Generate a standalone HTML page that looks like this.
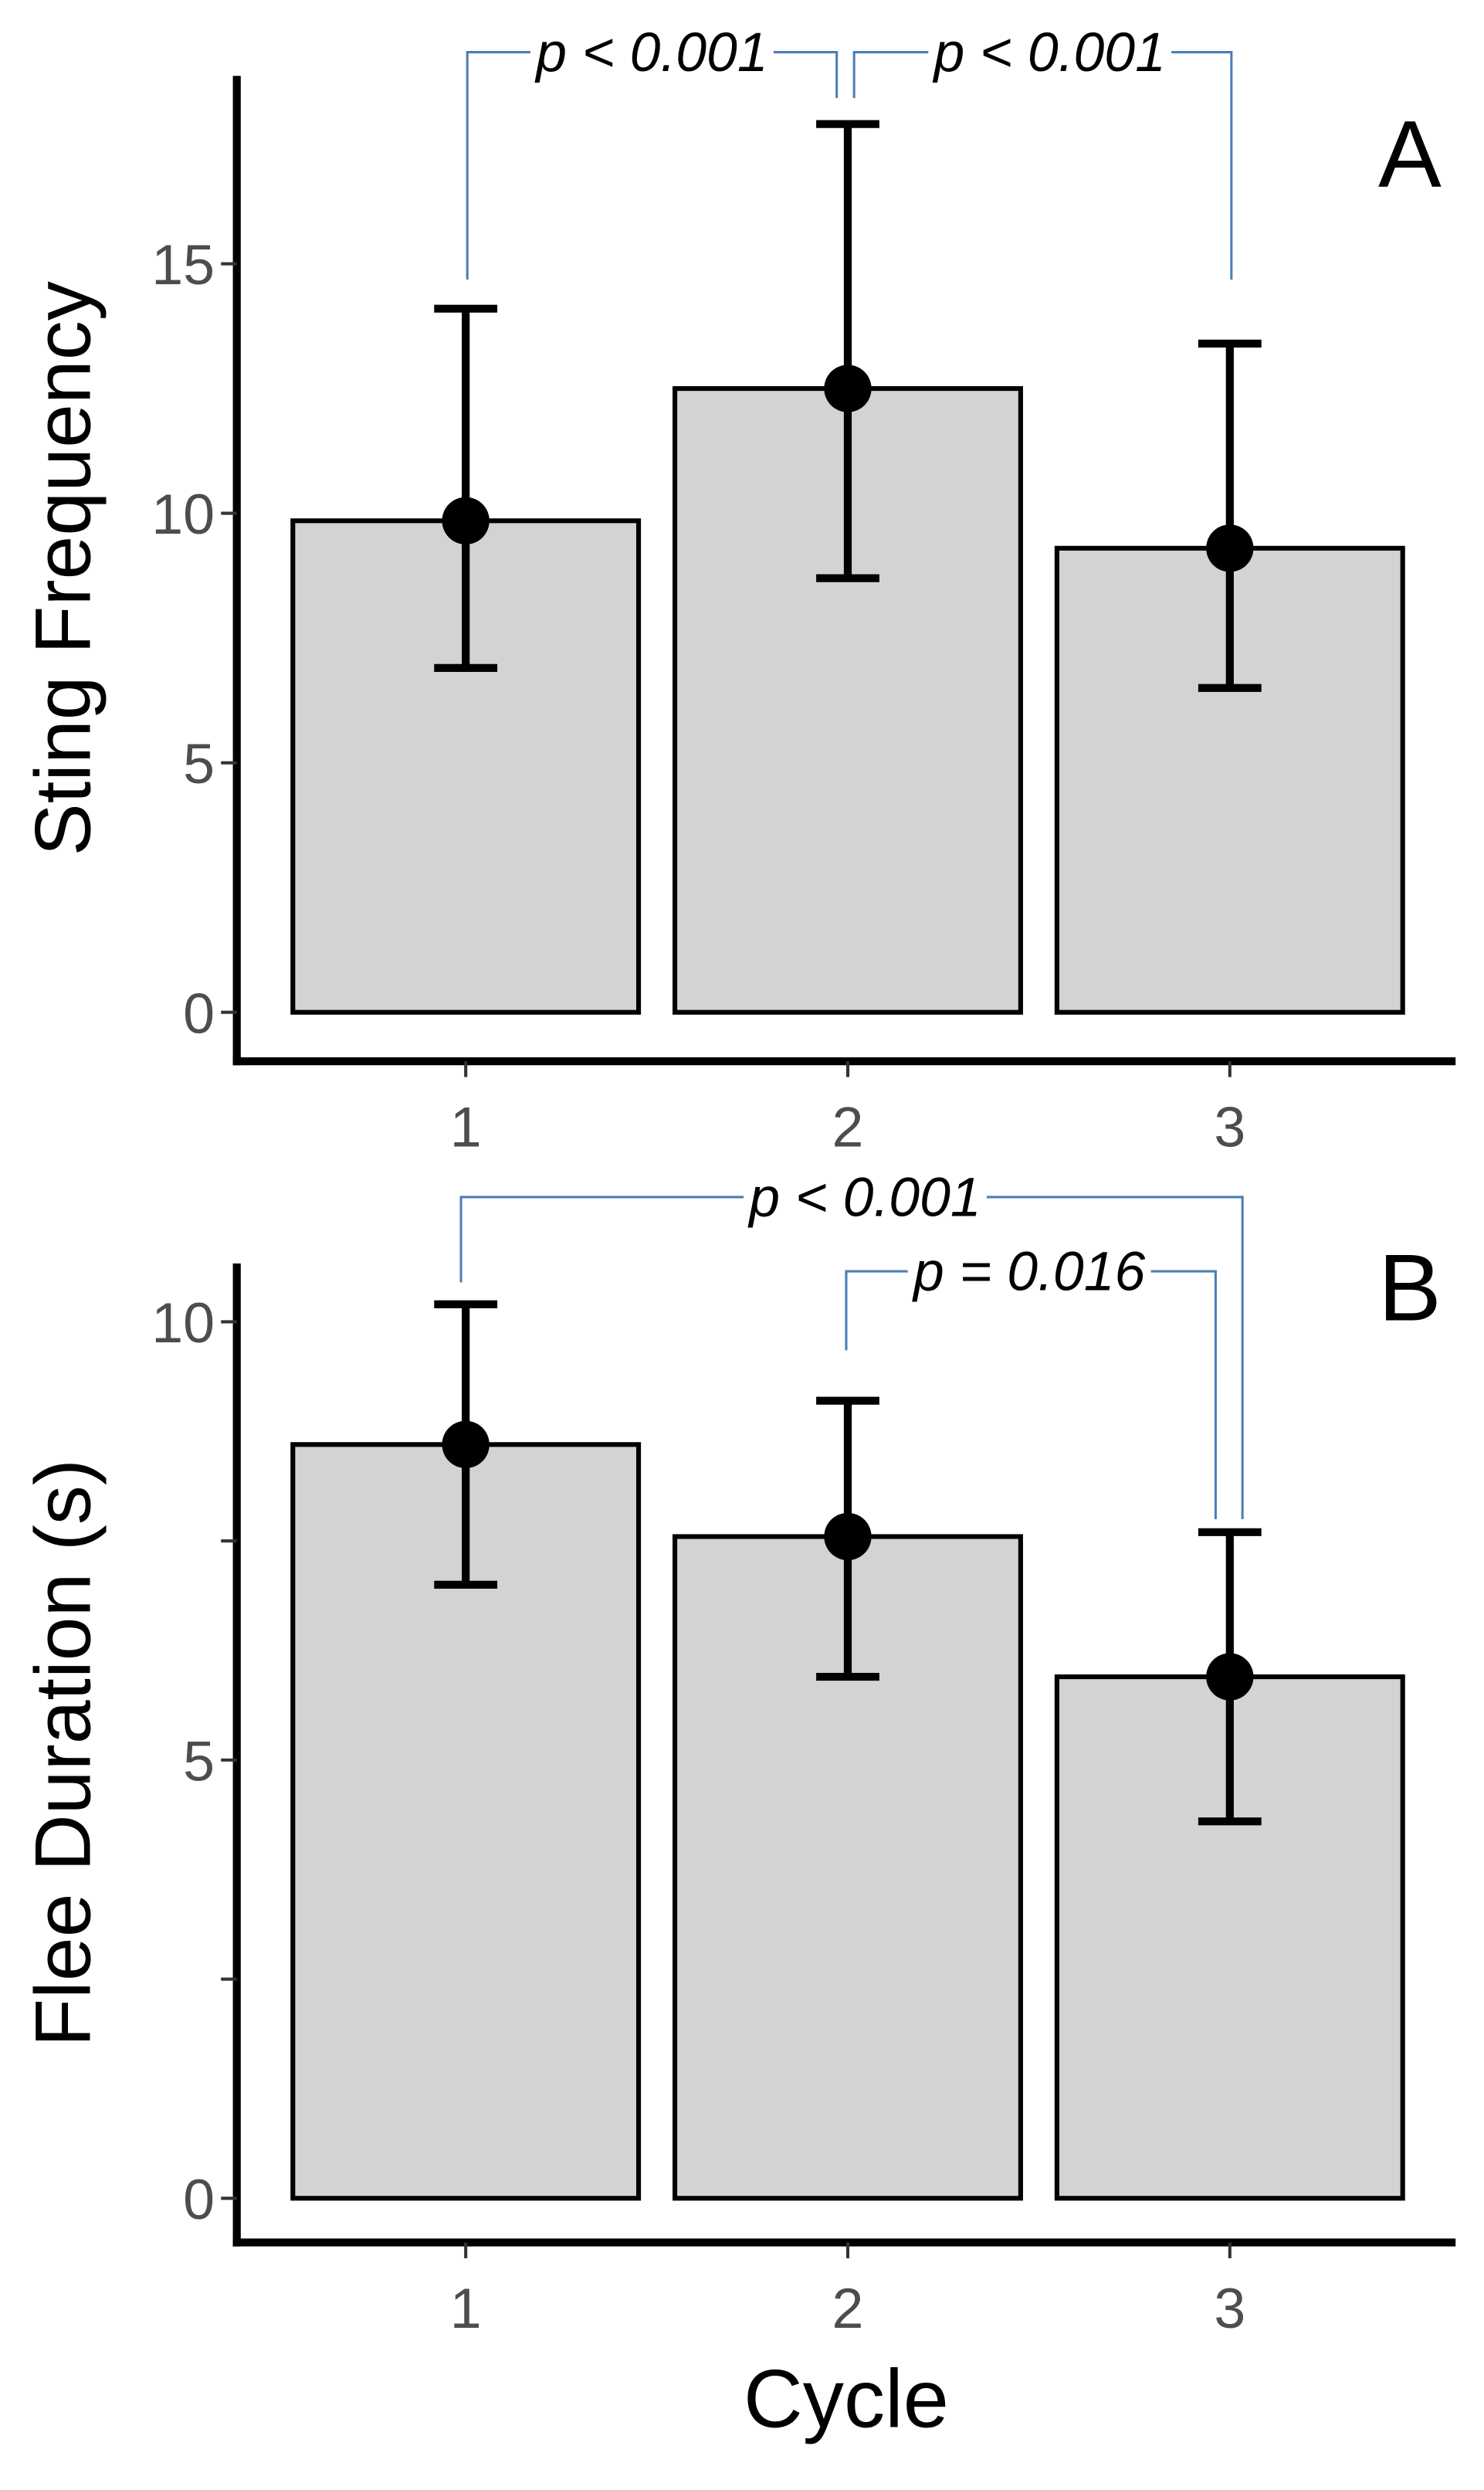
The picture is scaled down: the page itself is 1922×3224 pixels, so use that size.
<!DOCTYPE html>
<html><head><meta charset="utf-8"><style>
html,body{margin:0;padding:0;background:#fff;}
svg{display:block;}
text{font-family:"Liberation Sans",sans-serif;}
</style></head><body>
<svg id="chart" width="1922" height="3224" viewBox="0 0 940 1576.7" xmlns="http://www.w3.org/2000/svg">
<g id="pA"></g>
<g id="pB"></g>
</svg>
<script>
const categories = ["1","2","3"];
const stingMeans = [9.85, 12.5, 9.3];
const stingLow = [6.9, 8.7, 6.5];
const stingHigh = [14.1, 17.8, 13.4];
const stingTicks = [0,5,10,15];
const fleeMeans = [8.6, 7.55, 5.95];
const fleeLow = [7.0, 5.95, 4.3];
const fleeHigh = [10.2, 9.1, 7.6];
const fleeTicks = [0,2.5,5,7.5,10];
const fleeTickLabels = ["0","","5","","10"];

const NS="http://www.w3.org/2000/svg";
function mk(parent,tag,attrs,txt){const e=document.createElementNS(NS,tag);for(const k in attrs)e.setAttribute(k,attrs[k]);if(txt!==undefined)e.textContent=txt;parent.appendChild(e);return e;}
const xs=[295,537,779], bw=219;
function xOf(i){return xs[i];}

function panel(g,cfg){
  const y=v=>cfg.y0-v*cfg.k;
  cfg.means.forEach((m,i)=>{
    const r=mk(g,'rect',{x:xOf(i)-bw/2,y:y(m),width:bw,height:y(0)-y(m),fill:'#d3d3d3',stroke:'#000','stroke-width':3});
    
    
  });
  cfg.means.forEach((m,i)=>{
    const eg=mk(g,'g',{stroke:'#000','stroke-width':5});
    
    
    mk(eg,'line',{x1:xOf(i),x2:xOf(i),y1:y(cfg.lo[i]),y2:y(cfg.hi[i])});
    mk(eg,'line',{x1:xOf(i)-20,x2:xOf(i)+20,y1:y(cfg.lo[i]),y2:y(cfg.lo[i])});
    mk(eg,'line',{x1:xOf(i)-20,x2:xOf(i)+20,y1:y(cfg.hi[i]),y2:y(cfg.hi[i])});
    const c=mk(g,'circle',{cx:xOf(i),cy:y(m),r:15,fill:'#000'});
    
    
  });
  const ax=mk(g,'g',{stroke:'#000','stroke-width':5});
  
  
  mk(ax,'line',{x1:150,x2:150,y1:cfg.top,y2:cfg.axY+2.5});
  mk(ax,'line',{x1:147.5,x2:922,y1:cfg.axY,y2:cfg.axY});
  cfg.ticks.forEach((t,i)=>{
    mk(g,'line',{x1:140,x2:150,y1:y(t),y2:y(t),stroke:'#333','stroke-width':2});
    if(cfg.labels[i]!==''){
      const tx=mk(g,'text',{x:136,y:y(t)+13,'text-anchor':'end','font-size':36,fill:'#4d4d4d'},cfg.labels[i]);
      
      
    }
  });
  categories.forEach((c,i)=>{
    mk(g,'line',{x1:xOf(i),x2:xOf(i),y1:cfg.axY,y2:cfg.axY+10,stroke:'#333','stroke-width':2});
    const tx=mk(g,'text',{x:xOf(i),y:cfg.axY+54,'text-anchor':'middle','font-size':36,fill:'#4d4d4d'},c);
    
    
  });
  const yt=mk(g,'text',{x:0,y:0,transform:`translate(57,${cfg.titleY}) rotate(-90)`,'text-anchor':'middle','font-size':50,fill:'#000'},cfg.title);
  
  
  const L=mk(g,'text',{x:893,y:cfg.letterY,'text-anchor':'middle','font-size':60,fill:'#000'},cfg.letter);
  
  
  cfg.brackets.forEach(b=>{
    const bg=mk(g,'g',{});
    
    
    mk(bg,'polyline',{points:`${b.x1},${b.y1} ${b.x1},${b.yt} ${b.x2},${b.yt} ${b.x2},${b.y2}`,fill:'none',stroke:'#4a7fb5','stroke-width':1.5});
    const tw=b.w;
    mk(bg,'rect',{x:b.tx-tw/2,y:b.yt-16,width:tw,height:32,fill:'#fff'});
    mk(bg,'text',{x:b.tx,y:b.yt+12,'text-anchor':'middle','font-size':35,'font-style':'italic',fill:'#000'},b.text);
  });
}

panel(document.getElementById('pA'),{y0:641,k:31.6,top:48,axY:672,means:stingMeans,lo:stingLow,hi:stingHigh,
  ticks:stingTicks,labels:stingTicks.map(String),title:'Sting Frequency',titleY:360,letter:'A',letterY:118,
  brackets:[{x1:296,y1:177,x2:530,y2:62,yt:33,tx:413,w:154,text:'p < 0.001'},
            {x1:541,y1:62,x2:780,y2:177,yt:33,tx:665,w:154,text:'p < 0.001'}]});
panel(document.getElementById('pB'),{y0:1392,k:55.5,top:800,axY:1420,means:fleeMeans,lo:fleeLow,hi:fleeHigh,
  ticks:fleeTicks,labels:fleeTickLabels,title:'Flee Duration (s)',titleY:1110,letter:'B',letterY:836,
  brackets:[{x1:292,y1:812,x2:787,y2:962,yt:758,tx:548,w:154,text:'p < 0.001'},
            {x1:536,y1:855,x2:770,y2:962,yt:805,tx:652,w:154,text:'p = 0.016'}]});
const ct=mk(document.getElementById('pB'),'text',{x:536,y:1537,'text-anchor':'middle','font-size':52,fill:'#000'},'Cycle');


</script>
</body></html>
